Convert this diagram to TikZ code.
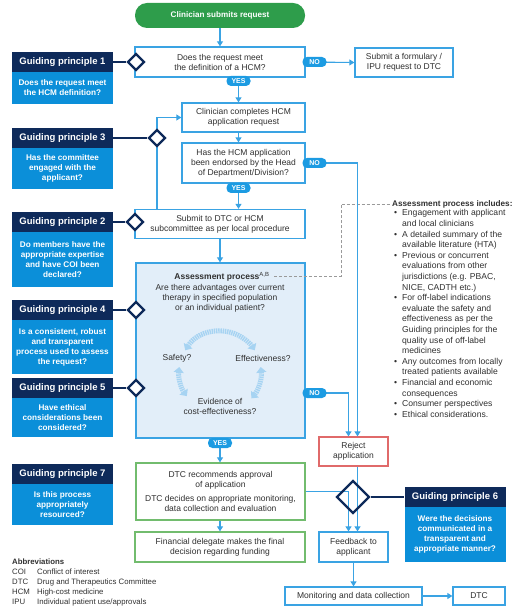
\documentclass[tikz,border=0pt]{standalone}
\usepackage{fontspec}
\setmainfont{Liberation Sans}
\usetikzlibrary{arrows.meta,calc,shapes.geometric}
\definecolor{cblue}{HTML}{3AA3E3}
\definecolor{cnavy}{HTML}{0E2A5A}
\definecolor{cgp}{HTML}{0B8FD9}
\definecolor{cgreen}{HTML}{2E9D4B}
\definecolor{cgbox}{HTML}{72BC6E}
\definecolor{cred}{HTML}{E06A6A}
\definecolor{cfill}{HTML}{E2EEF9}
\definecolor{ctext}{HTML}{303030}
\definecolor{cdot}{HTML}{A6D3F2}
\definecolor{cgray}{HTML}{9A9A9A}
\definecolor{cbadge}{HTML}{1C9BE2}
\newcommand\gpbul{\makebox[8pt][l]{\textbullet}}
\newcommand\gpind{\hspace*{8pt}}
\begin{document}
\begin{tikzpicture}[x=1pt,y=-1pt,
  every node/.style={text=ctext, font=\fontsize{8.5}{10}\selectfont},
  box/.style={draw=cblue, line width=1.3pt, fill=white, align=center, inner sep=0pt},
  pill/.style={fill=cgreen, text=white, rounded corners=12pt, minimum width=170pt, minimum height=25pt, inner sep=0pt, font=\bfseries\fontsize{8.1}{10}\selectfont},
  arr/.style={draw=cblue, line width=1.1pt, -{Triangle[width=6pt,length=5pt]}},
  gph/.style={fill=cnavy, text=white, font=\bfseries\fontsize{9.5}{11}\selectfont, minimum width=101pt, minimum height=20pt, inner sep=0pt},
  gpb/.style={fill=cgp, text=white, font=\bfseries\fontsize{8.2}{10}\selectfont, minimum width=101pt, align=center, inner sep=0pt},
  dia/.style={diamond, aspect=1, draw=cnavy, line width=2.4pt, fill=white, minimum size=17pt, inner sep=0pt},
  navyl/.style={draw=cnavy, line width=2.6pt},
  badge/.style={fill=cbadge, text=white, font=\bfseries\fontsize{7}{7}\selectfont, rounded corners=4.5pt, minimum width=24pt, minimum height=10pt, inner sep=0pt},
  dashl/.style={draw=cgray, line width=0.9pt, dash pattern=on 3pt off 2pt},
  dotarr/.style={draw=cdot, line width=5pt, dash pattern=on 1.4pt off 0.8pt, {Triangle[width=10pt,length=5.5pt]}-{Triangle[width=10pt,length=5.5pt]}}
]
\useasboundingbox (0,0) rectangle (522,609);

% main flow boxes
\node[pill] (start) at (220,15.5) {Clinician submits request};
\node[box, minimum width=170pt, minimum height=30pt] (q1) at (220,62) {Does the request meet\\the definition of a HCM?};
\node[box, minimum width=98pt, minimum height=29pt] (form) at (404,62.5) {Submit a formulary /\\IPU request to DTC};
\node[box, minimum width=123pt, minimum height=29pt] (compl) at (243.5,117.5) {Clinician completes HCM\\application request};
\node[box, minimum width=123pt, minimum height=40pt] (endo) at (243.5,163) {Has the HCM application\\been endorsed by the Head\\of Department/Division?};
\node[box, minimum width=170pt, minimum height=29pt] (subm) at (220,224) {Submit to DTC or HCM\\subcommittee as per local procedure};
\node[box, fill=cfill, minimum width=169pt, minimum height=175pt] (assess) at (220.5,350.5) {};
\node[box, draw=cred, minimum width=69pt, minimum height=29pt] (rej) at (353.5,451.5) {Reject\\application};
\node[box, draw=cgbox, minimum width=169pt, minimum height=57pt] (rec) at (220.5,491.5) {DTC recommends approval\\of application\\[4pt]DTC decides on appropriate monitoring,\\data collection and evaluation};
\node[box, draw=cgbox, minimum width=170pt, minimum height=30pt] (fin) at (220,547) {Financial delegate makes the final\\decision regarding funding};
\node[box, minimum width=69pt, minimum height=30pt] (fb) at (353.5,547) {Feedback to\\applicant};
\node[box, minimum width=137pt, minimum height=18pt] (mon) at (353.5,596) {Monitoring and data collection};
\node[box, minimum width=52pt, minimum height=18pt] (dtc) at (479,596) {DTC};

% assessment box contents
\node (atitle) at (222,276.5) {\textbf{Assessment process}\textsuperscript{A,B}};
\node[align=center] (aq) at (220,298) {Are there advantages over current\\therapy in specified population\\or an individual patient?};
\node (saf) at (177,358) {Safety?};
\node (eff) at (263,358) {Effectiveness?};
\node[align=center] (evi) at (220,406) {Evidence of\\cost-effectiveness?};
\coordinate (cc) at (220,372);
\draw[dotarr] ([shift={(212:41)}]cc) arc[start angle=212,end angle=328,radius=41];
\draw[dotarr] ([shift={(187:41)}]cc) arc[start angle=187,end angle=144,radius=41];
\draw[dotarr] ([shift={(-7:41)}]cc) arc[start angle=-7,end angle=40,radius=41];

% assessment list
\node[anchor=west, inner sep=0pt, font=\bfseries\fontsize{8.2}{10}\selectfont] (lt) at (392,204) {Assessment process includes:};
\node[anchor=north west, align=left, inner sep=0pt, font=\fontsize{8.6}{10.6}\selectfont] (list) at (394,209.5) {%
\gpbul Engagement with applicant\\
\gpind and local clinicians\\
\gpbul A detailed summary of the\\
\gpind available literature (HTA)\\
\gpbul Previous or concurrent\\
\gpind evaluations from other\\
\gpind jurisdictions (e.g. PBAC,\\
\gpind NICE, CADTH etc.)\\
\gpbul For off-label indications\\
\gpind evaluate the safety and\\
\gpind effectiveness as per the\\
\gpind Guiding principles for the\\
\gpind quality use of off-label\\
\gpind medicines\\
\gpbul Any outcomes from locally\\
\gpind treated patients available\\
\gpbul Financial and economic\\
\gpind consequences\\
\gpbul Consumer perspectives\\
\gpbul Ethical considerations.};
\coordinate (k1) at (341,276.5);
\coordinate (k2) at (341,204);
\draw[dashl] ([xshift=1pt]atitle.east) -- (k1) -- (k2) -- ([xshift=-2pt]lt.west);

% coordinates for connectors
\coordinate (cy1) at (238.5,81);
\coordinate (cy2) at (238.5,188);
\coordinate (cy3) at (220,443);
\coordinate (cn1) at (314.5,62);
\coordinate (cn2) at (314.5,163);
\coordinate (cn3) at (314.5,393);
\coordinate (rj1) at (348.5,437);
\coordinate (rj2) at (357.5,437);
\coordinate (loop) at (157,138);

% connectors
\draw[arr] (start) -- (q1);
\draw[arr] (q1.south -| cy1) -- (compl.north -| cy1);
\draw[arr] (compl.south -| cy1) -- (endo.north -| cy1);
\draw[arr] (endo.south -| cy2) -- (subm.north -| cy2);
\draw[arr] (q1.east) -- (form.west);
\draw[arr] (endo.east) -- (endo.east -| rj2) -- (rej.north -| rj2);
\draw[arr] (subm.north -| loop) -- (compl.west -| loop) -- (compl.west);
\draw[arr] (subm.south) -- (subm.south |- assess.north);
\draw[arr] (assess.east |- cn3) -- (cn3 -| rj1) -- (rej.north -| rj1);
\draw[arr] (assess.south -| cy3) -- (rec.north -| cy3);
\draw[arr] (rec.south -| cy3) -- (fin.north -| cy3);
\draw[arr] (rec.east) -- (rec.east -| rj1) -- (fb.north -| rj1);
\draw[arr] (rej.south -| rj2) -- (fb.north -| rj2);
\draw[arr] (fb) -- (mon);
\draw[arr] (mon) -- (dtc);

% guiding principles
\node[gph] (gp1h) at (62.5,62) {Guiding principle 1};
\node[gpb, minimum height=32pt] (gp1b) at (62.5,88) {Does the request meet\\the HCM definition?};
\node[gph] (gp3h) at (62.5,138) {Guiding principle 3};
\node[gpb, minimum height=41pt] (gp3b) at (62.5,168.5) {Has the committee\\engaged with the\\applicant?};
\node[gph] (gp2h) at (62.5,222) {Guiding principle 2};
\node[gpb, minimum height=55pt] (gp2b) at (62.5,259.5) {Do members have the\\appropriate expertise\\and have COI been\\declared?};
\node[gph] (gp4h) at (62.5,310) {Guiding principle 4};
\node[gpb, minimum height=54pt] (gp4b) at (62.5,347) {Is a consistent, robust\\and transparent\\process used to assess\\the request?};
\node[gph] (gp5h) at (62.5,388) {Guiding principle 5};
\node[gpb, minimum height=39pt] (gp5b) at (62.5,417.5) {Have ethical\\considerations been\\considered?};
\node[gph] (gp7h) at (62.5,474) {Guiding principle 7};
\node[gpb, minimum height=41pt] (gp7b) at (62.5,504.5) {Is this process\\appropriately\\resourced?};
\node[gph] (gp6h) at (455,497) {Guiding principle 6};
\node[gpb, minimum height=55pt] (gp6b) at (455,534.5) {Were the decisions\\communicated in a\\transparent and\\appropriate manner?};

% diamonds and links
\node[dia] (d1) at (136,62) {};
\node[dia] (d3) at (157,138) {};
\node[dia] (d2) at (135,222) {};
\node[dia] (d4) at (136,310) {};
\node[dia] (d5) at (136,388) {};
\node[dia, minimum size=33pt, fill=none] (d6) at (353,497) {};
\draw[navyl] (gp1h.east) -- (d1.west);
\draw[navyl] (gp3h.east) -- (d3.west);
\draw[navyl] (gp2h.east) -- (d2.west);
\draw[navyl] (gp4h.east) -- (d4.west);
\draw[navyl] (gp5h.east) -- (d5.west);
\draw[navyl] (d6.east) -- (gp6h.west);

% badges
\node[badge] (yes1) at (cy1) {YES};
\node[badge] (yes2) at (cy2) {YES};
\node[badge] (yes3) at (cy3) {YES};
\node[badge] (no1) at (cn1) {NO};
\node[badge] (no2) at (cn2) {NO};
\node[badge] (no3) at (cn3) {NO};

% abbreviations
\node[anchor=north west, align=left, inner sep=0pt, font=\fontsize{7.8}{10}\selectfont] (abbr) at (12,558.5) {%
\textbf{Abbreviations}\\
\makebox[25pt][l]{COI}Conflict of interest\\
\makebox[25pt][l]{DTC}Drug and Therapeutics Committee\\
\makebox[25pt][l]{HCM}High-cost medicine\\
\makebox[25pt][l]{IPU}Individual patient use/approvals};
\end{tikzpicture}
\end{document}
